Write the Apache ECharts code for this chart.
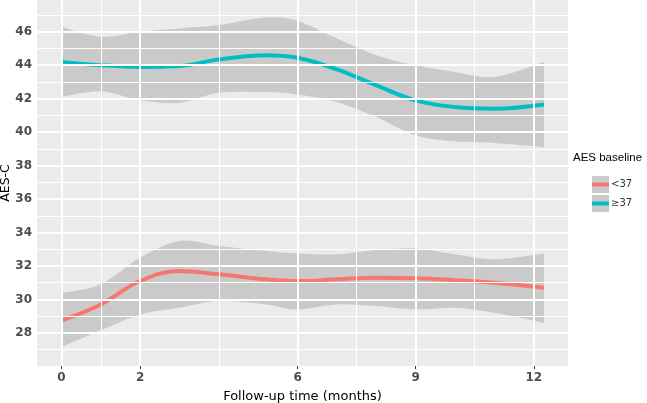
<!DOCTYPE html>
<html>
<head>
<meta charset="utf-8">
<script src="https://cdn.jsdelivr.net/npm/echarts@6/dist/echarts.min.js"></script>
<style>
  html, body { margin: 0; padding: 0; background: #fff; }
  #chart { width: 647px; height: 403px; }
</style>
</head>
<body>
<div id="chart"></div>
<script>
// follow-up months where the smooth curves are sampled
const months = [0, 1, 2, 3, 4, 5.2, 6, 7, 8, 9, 10, 11, 12.26]

// AES baseline < 37
const lowFit   = [28.74, 29.7, 31.1, 31.7, 31.5, 31.2, 31.1, 31.2, 31.3, 31.27, 31.15, 31.0, 30.7]
const lowUpper = [30.37, 30.9, 32.5, 33.5, 33.2, 32.9, 32.75, 32.7, 32.95, 33.05, 32.7, 32.4, 32.75]
const lowLower = [27.14, 28.15, 29.1, 29.5, 29.9, 29.7, 29.4, 29.7, 29.6, 29.4, 29.5, 29.2, 28.6]

// AES baseline >= 37
const highFit   = [44.2, 44.0, 43.9, 43.95, 44.35, 44.6, 44.45, 43.75, 42.8, 41.9, 41.5, 41.4, 41.65]
const highUpper = [46.3, 45.7, 46.0, 46.2, 46.4, 46.85, 46.65, 45.6, 44.6, 44.0, 43.6, 43.3, 44.2]
const highLower = [42.1, 42.45, 41.9, 41.75, 42.35, 42.4, 42.25, 41.8, 40.9, 39.8, 39.45, 39.35, 39.1]

const groupNames = ['<37', '≥37']
const xBreaks = [0, 2, 6, 9, 12]
const xMinorBreaks = [1, 4, 7.5, 10.5]
const yBreaks = [28, 30, 32, 34, 36, 38, 40, 42, 44, 46]
const yMinorBreaks = [27, 29, 31, 33, 35, 37, 39, 41, 43, 45, 47]

const chart = echarts.init(document.getElementById('chart'))

const pairs = (ys) => months.map((m, i) => [m, ys[i]])

// catmull-rom -> bezier segments through pixel points (skips the first point)
function curveTo(pts) {
  let d = ''
  for (let i = 0; i < pts.length - 1; i++) {
    const p0 = pts[Math.max(i - 1, 0)]
    const p1 = pts[i]
    const p2 = pts[i + 1]
    const p3 = pts[Math.min(i + 2, pts.length - 1)]
    const c1 = [p1[0] + (p2[0] - p0[0]) / 6, p1[1] + (p2[1] - p0[1]) / 6]
    const c2 = [p2[0] - (p3[0] - p1[0]) / 6, p2[1] - (p3[1] - p1[1]) / 6]
    d += ' C' + c1.join(',') + ' ' + c2.join(',') + ' ' + p2.join(',')
  }
  return d
}

function band(name, lower, upper) {
  return {
    type: 'custom', name: name, silent: true, z: 2,
    data: [[months[0], lower[0]]],
    encode: { x: 0, y: 1 },
    renderItem: function (params, api) {
      const up = months.map((m, i) => api.coord([m, upper[i]]))
      const lo = months.map((m, i) => api.coord([m, lower[i]])).reverse()
      const d = 'M' + up[0].join(',') + curveTo(up) +
        ' L' + lo[0].join(',') + curveTo(lo) + ' Z'
      return {
        type: 'path',
        shape: { pathData: d },
        style: { fill: 'rgba(153,153,153,0.4)' }
      }
    }
  }
}

const gridLines = (values, key, width) => values.map(v => ({
  [key]: v, lineStyle: { color: '#ffffff', width: width, type: 'solid' }
}))

const labelFont = { color: '#4D4D4D', fontFamily: 'DejaVu Sans', fontWeight: 'bold', fontSize: 12 }

const option = {
  animation: false,
  backgroundColor: '#ffffff',
  grid: {
    left: 37, right: 79, top: 0, bottom: 37,
    outerBoundsMode: 'none',
    show: true, backgroundColor: '#EBEBEB', borderWidth: 0
  },
  xAxis: {
    type: 'value', min: -0.62, max: 12.87,
    name: 'Follow-up time (months)', nameLocation: 'middle', nameGap: 24,
    nameTextStyle: { color: '#000', fontFamily: 'DejaVu Sans', fontSize: 13 },
    axisLine: { show: false },
    axisTick: { show: true, customValues: xBreaks, length: 3, lineStyle: { color: '#333333' } },
    axisLabel: { customValues: xBreaks, margin: 6, ...labelFont },
    splitLine: { show: false }
  },
  yAxis: {
    type: 'value', min: 26.02, max: 47.9,
    name: 'AES-C', nameLocation: 'middle', nameGap: 25, nameRotate: 90,
    nameMoveOverlap: false,
    nameTextStyle: { color: '#000', fontFamily: 'DejaVu Sans', fontSize: 12.5 },
    axisLine: { show: false },
    axisTick: { show: true, customValues: yBreaks, length: 3, lineStyle: { color: '#333333' } },
    axisLabel: { customValues: yBreaks, margin: 5, ...labelFont },
    splitLine: { show: false }
  },
  legend: [
    {
      // grey key backgrounds
      data: groupNames.map(n => ({ name: n, itemStyle: { color: '#CBCBCB' } })),
      orient: 'vertical', left: 587, top: 171, itemGap: 2,
      itemWidth: 17, itemHeight: 17, icon: 'rect', selectedMode: false, z: 4,
      textStyle: { color: 'rgba(0,0,0,0)', fontSize: 10, lineHeight: 17, fontFamily: 'DejaVu Sans' }
    },
    {
      data: groupNames,
      orient: 'vertical', left: 587, top: 171, itemGap: 2,
      itemWidth: 17, itemHeight: 4, icon: 'rect', selectedMode: false, z: 5,
      textStyle: { color: '#333333', fontSize: 10, lineHeight: 17, fontFamily: 'DejaVu Sans', padding: [0, 0, 0, -3] }
    }
  ],
  graphic: [
    {
      type: 'text', left: 573, top: 152,
      style: { text: 'AES baseline', fill: '#000', font: '11.5px "Liberation Sans"' }
    }
  ],
  series: [
    {
      type: 'line', name: 'grid', data: [], silent: true, z: 1,
      markLine: {
        silent: true, symbol: 'none', label: { show: false }, animation: false,
        data: [
          ...gridLines(xMinorBreaks, 'xAxis', 1),
          ...gridLines(yMinorBreaks, 'yAxis', 1),
          ...gridLines(xBreaks, 'xAxis', 2),
          ...gridLines(yBreaks, 'yAxis', 2)
        ]
      }
    },
    band('low-band', lowLower, lowUpper),
    band('high-band', highLower, highUpper),
    {
      type: 'line', name: groupNames[0], data: pairs(lowFit),
      smooth: 0.4, symbol: 'none', z: 3,
      itemStyle: { color: '#F8766D' },
      lineStyle: { color: '#F8766D', width: 4 }
    },
    {
      type: 'line', name: groupNames[1], data: pairs(highFit),
      smooth: 0.4, symbol: 'none', z: 3,
      itemStyle: { color: '#00BFC4' },
      lineStyle: { color: '#00BFC4', width: 4 }
    }
  ]
}

chart.setOption(option)
</script>
</body>
</html>
